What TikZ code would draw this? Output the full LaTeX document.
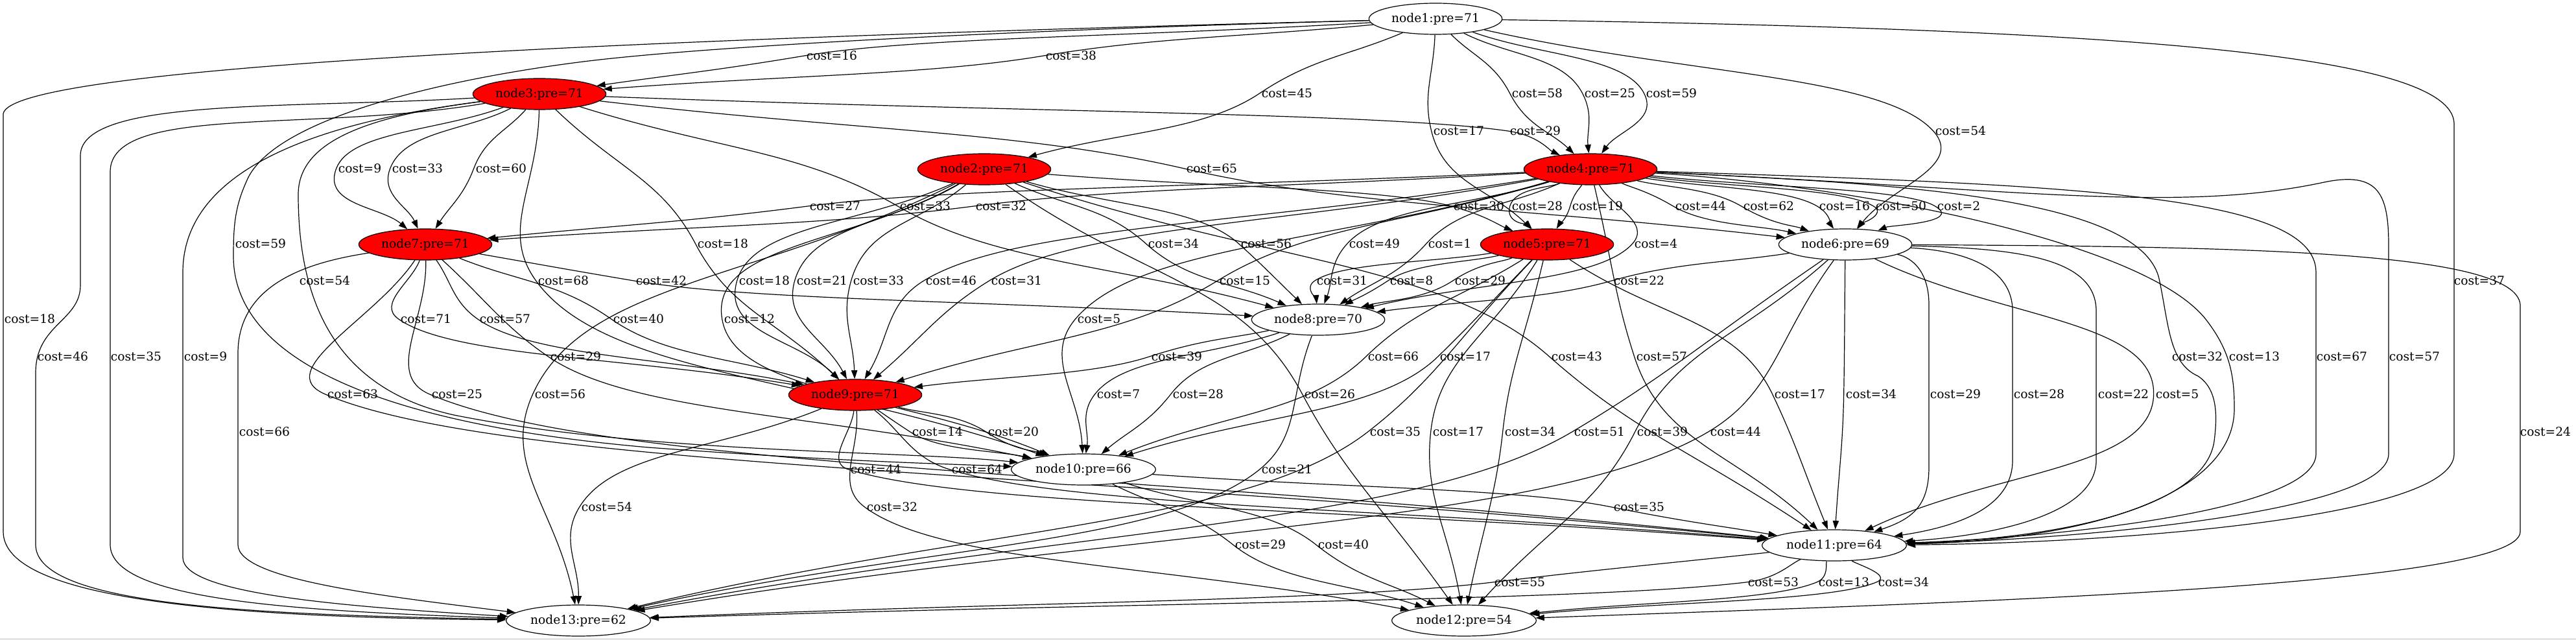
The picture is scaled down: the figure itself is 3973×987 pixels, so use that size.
\documentclass[tikz,border=0pt]{standalone}
\usepackage{fontspec}
\setmainfont{DejaVu Serif}
\usetikzlibrary{shapes.geometric,arrows.meta,calc}
\pgfdeclarelayer{back}
\pgfdeclarelayer{bg}
\pgfsetlayers{back,bg,main}
\newcommand\fsz{\fontsize{14pt}{16pt}\selectfont}
\definecolor{lgray}{RGB}{190,190,190}
\tikzset{
  nd/.style={ellipse, draw=black, line width=0.9pt, fill=white, minimum width=154pt, minimum height=36pt, inner sep=0pt, font=\fsz},
  wd/.style={minimum width=167pt},
  hot/.style={fill=red},
  lbl/.style={inner sep=0pt, font=\fsz},
  cn/.style={draw=black, line width=0.9pt, -{Triangle[length=10pt,width=7pt]}},
}
\newcommand\Ed[6]{%
  \node[lbl] (l#1) at (#4,#5) {cost=#6};
  \path[cn] let \p1=(#2), \p2=(#3), \p3=($(l#1.west)+(-3,0)$),
    \n1={veclen(0.5*((\x2)-(\x1)),(\y2)-(\y1))},
    \n2={min(0.5*((\y3)-(\y1))/((\y2)-(\y1)), veclen((\x3)-(\x1),(\y3)-(\y1))/(3*\n1))},
    \n3={min(0.5*((\y2)-(\y3))/((\y2)-(\y1)), veclen((\x2)-(\x3),(\y2)-(\y3))/(3*\n1))} in
    (#2) .. controls ({(\x1)+0.5*((\x3)-(\x1))},{(\y1)+0.5*((\y3)-(\y1))}) and ({(\x3)-\n2*0.5*((\x2)-(\x1))},{(\y3)-\n2*((\y2)-(\y1))}) .. (\p3)
    .. controls ({(\x3)+\n3*0.5*((\x2)-(\x1))},{(\y3)+\n3*((\y2)-(\y1))}) and ({(\x2)+0.5*((\x3)-(\x2))},{(\y2)+0.5*((\y3)-(\y2))}) .. (#3);
}
\begin{document}
\begin{tikzpicture}[x=0.75pt,y=-0.75pt]
\useasboundingbox (0,0) rectangle (3973,987);
\begin{pgfonlayer}{back}
\fill[white] (0,0) rectangle (3973,987);
\draw[lgray, line width=1pt] (0,985.5) -- (3973,985.5);
\end{pgfonlayer}
% nodes
\node[nd] (n1) at (2214,29) {node1:pre=71};
\node[nd,hot] (n3) at (832,145) {node3:pre=71};
\node[nd,hot] (n2) at (1518,261) {node2:pre=71};
\node[nd,hot] (n4) at (2453,261) {node4:pre=71};
\node[nd,hot] (n7) at (656,377) {node7:pre=71};
\node[nd,hot] (n5) at (2386,377) {node5:pre=71};
\node[nd] (n6) at (2846,377) {node6:pre=69};
\node[nd] (n8) at (2033,493) {node8:pre=70};
\node[nd,hot] (n9) at (1319,609) {node9:pre=71};
\node[nd,wd] (n10) at (1671,724) {node10:pre=66};
\node[nd,wd] (n11) at (2829,841) {node11:pre=64};
\node[nd,wd] (n12) at (2258,957) {node12:pre=54};
\node[nd,wd] (n13) at (892,957) {node13:pre=62};
\begin{pgfonlayer}{bg}
\Ed{1}{n1}{n3}{1283}{86}{16}
\Ed{2}{n1}{n3}{1652}{86}{38}
\Ed{3}{n1}{n2}{1985}{144}{45}
\Ed{4}{n1}{n4}{2371}{144}{58}
\Ed{5}{n1}{n4}{2483}{144}{25}
\Ed{6}{n1}{n4}{2578}{144}{59}
\Ed{7}{n1}{n5}{2250}{202}{17}
\Ed{8}{n3}{n4}{2368}{202}{29}
\Ed{9}{n1}{n6}{3024}{202}{54}
\Ed{10}{n3}{n7}{555}{260}{9}
\Ed{11}{n3}{n7}{644}{260}{33}
\Ed{12}{n3}{n7}{773}{260}{60}
\Ed{13}{n3}{n6}{1869}{260}{65}
\Ed{14}{n4}{n7}{1288}{318}{27}
\Ed{15}{n3}{n8}{1427}{318}{33}
\Ed{16}{n4}{n7}{1544}{318}{32}
\Ed{17}{n2}{n5}{2281}{318}{30}
\Ed{18}{n4}{n5}{2371}{318}{28}
\Ed{19}{n4}{n5}{2464}{318}{19}
\Ed{20}{n4}{n6}{2623}{318}{44}
\Ed{21}{n4}{n6}{2728}{318}{62}
\Ed{22}{n4}{n6}{2845}{318}{16}
\Ed{23}{n4}{n6}{2932}{318}{50}
\Ed{24}{n4}{n6}{3021}{318}{2}
% node1 -> node10 (left route)
\node[lbl] (l25) at (402,376) {cost=59};
\draw[cn] (n1) .. controls (1600,45) and (1100,70) .. (900,95) .. controls (700,120) and (420,180) .. (380,280) .. controls (362,320) and (360,350) .. (360,395) .. controls (360,560) and (600,655) .. (1000,690) .. controls (1300,712) and (1450,715) .. (n10);
\Ed{26}{n3}{n9}{1115}{376}{18}
\Ed{27}{n2}{n8}{1810}{376}{34}
\Ed{28}{n2}{n8}{1953}{376}{56}
\Ed{29}{n4}{n8}{2120}{376}{49}
\Ed{30}{n4}{n8}{2236}{376}{1}
\Ed{31}{n4}{n8}{2554}{376}{4}
% node3 -> node10 (left of node7)
\node[lbl] (l32) at (501,433) {cost=54};
\draw[cn] (n3) .. controls (560,180) and (460,220) .. (460,300) .. controls (460,470) and (520,600) .. (700,640) .. controls (1000,700) and (1400,695) .. (n10);
\Ed{33}{n3}{n10}{869}{433}{68}
\Ed{34}{n7}{n8}{1020}{433}{42}
\Ed{35}{n2}{n9}{1179}{433}{18}
\Ed{36}{n2}{n9}{1268}{433}{21}
\Ed{37}{n2}{n9}{1355}{433}{33}
\Ed{38}{n4}{n9}{1467}{433}{46}
\Ed{39}{n4}{n9}{1568}{433}{31}
\Ed{40}{n4}{n9}{1920}{433}{15}
\Ed{41}{n5}{n8}{2070}{433}{31}
\Ed{42}{n5}{n8}{2177}{433}{8}
\Ed{43}{n5}{n8}{2283}{433}{29}
\Ed{44}{n6}{n8}{2528}{433}{22}
\node[lbl] (l45) at (3824,433) {cost=37};
\draw[cn] (n1) .. controls (3300,45) and (3780,85) .. (3785,190) -- (3785,700) .. controls (3785,800) and (3250,838) .. (n11);
\node[lbl] (l46) at (46,492) {cost=18};
\draw[cn] (n1) .. controls (900,62) and (20,105) .. (5,175) -- (5,820) .. controls (5,925) and (350,952) .. (n13);
\Ed{47}{n7}{n9}{657}{492}{71}
\Ed{48}{n7}{n9}{779}{492}{57}
\Ed{49}{n7}{n9}{985}{492}{40}
\Ed{50}{n2}{n10}{1156}{492}{12}
\Ed{51}{n4}{n10}{1695}{492}{5}
% node3 -> node13 (three left routes)
\node[lbl] (l52) at (97,550) {cost=46};
\draw[cn] (n3) .. controls (450,168) and (124,150) .. (124,240) -- (124,440) .. controls (124,495) and (55,500) .. (55,575) -- (55,840) .. controls (55,935) and (400,948) .. (n13);
\node[lbl] (l53) at (210,550) {cost=35};
\draw[cn] (n3) .. controls (480,205) and (170,160) .. (170,265) -- (170,840) .. controls (170,925) and (450,942) .. (n13);
\node[lbl] (l54) at (317,550) {cost=9};
\draw[cn] (n3) .. controls (520,185) and (282,250) .. (282,420) -- (282,860) .. controls (282,915) and (520,935) .. (n13);
\Ed{55}{n7}{n10}{888}{550}{29}
\Ed{56}{n8}{n9}{1815}{550}{39}
\Ed{57}{n5}{n10}{2149}{550}{66}
\Ed{58}{n5}{n10}{2260}{550}{17}
\Ed{59}{n2}{n11}{2432}{550}{43}
\Ed{60}{n4}{n11}{2563}{550}{57}
\node[lbl] (l61) at (3389,550) {cost=32};
\draw[cn] (n4) .. controls (2900,282) and (3300,300) .. (3330,430) .. controls (3345,500) and (3345,560) .. (3390,580) .. controls (3420,600) and (3420,640) .. (3415,680) .. controls (3400,790) and (3150,832) .. (n11);
\node[lbl] (l62) at (3477,550) {cost=13};
\draw[cn] (n4) .. controls (2850,285) and (3300,370) .. (3400,490) .. controls (3440,540) and (3446,580) .. (3446,630) .. controls (3446,770) and (3200,834) .. (n11);
\node[lbl] (l63) at (3612,550) {cost=67};
\draw[cn] (n4) .. controls (3200,285) and (3572,300) .. (3572,420) -- (3572,700) .. controls (3572,790) and (3150,830) .. (n11);
\node[lbl] (l64) at (3724,550) {cost=57};
\draw[cn] (n4) .. controls (3100,290) and (3350,330) .. (3580,282) .. controls (3670,262) and (3684,300) .. (3684,380) -- (3684,700) .. controls (3684,790) and (3200,832) .. (n11);
\Ed{65}{n7}{n11}{544}{608}{63}
\Ed{66}{n7}{n11}{705}{608}{25}
\Ed{67}{n2}{n13}{864}{608}{56}
\Ed{68}{n8}{n10}{1725}{608}{7}
\Ed{69}{n8}{n10}{1848}{608}{28}
\Ed{70}{n2}{n12}{2051}{608}{26}
\Ed{71}{n5}{n11}{2776}{608}{17}
\Ed{72}{n6}{n11}{2886}{608}{34}
\node[lbl] (l73) at (3016,608) {cost=29};
\draw[cn] (n6) .. controls (2940,395) and (2975,410) .. (2975,470) -- (2975,720) .. controls (2975,780) and (2950,800) .. (n11);
\node[lbl] (l74) at (3145,608) {cost=28};
\draw[cn] (n6) .. controls (3000,385) and (3104,400) .. (3104,480) -- (3104,710) .. controls (3104,790) and (3000,815) .. (n11);
\node[lbl] (l75) at (3275,608) {cost=22};
\draw[cn] (n6) .. controls (3120,383) and (3233,400) .. (3233,480) -- (3233,710) .. controls (3233,800) and (3050,828) .. (n11);
\Ed{76}{n6}{n11}{3358}{608}{5}
\node[lbl] (l77) at (408,666) {cost=66};
\draw[cn] (n7) .. controls (470,405) and (367,440) .. (367,545) -- (367,840) .. controls (367,895) and (600,920) .. (n13);
\Ed{78}{n9}{n10}{1446}{666}{14}
\Ed{79}{n9}{n10}{1563}{666}{20}
\Ed{80}{n5}{n13}{2152}{666}{35}
\Ed{81}{n5}{n12}{2249}{666}{17}
\Ed{82}{n5}{n12}{2360}{666}{34}
\Ed{83}{n6}{n13}{2467}{666}{51}
\Ed{84}{n6}{n12}{2564}{666}{39}
\Ed{85}{n6}{n13}{2677}{666}{44}
\node[lbl] (l86) at (3926,666) {cost=24};
\draw[cn] (n6) .. controls (3500,380) and (3880,390) .. (3887,470) -- (3887,820) .. controls (3887,905) and (3000,930) .. (n12);
\Ed{87}{n9}{n11}{1351}{724}{44}
\Ed{88}{n9}{n11}{1507}{724}{64}
\Ed{89}{n8}{n13}{1985}{724}{21}
\Ed{90}{n9}{n13}{936}{782}{54}
\Ed{91}{n9}{n12}{1376}{782}{32}
\Ed{92}{n10}{n11}{2528}{782}{35}
\Ed{93}{n10}{n12}{1944}{840}{29}
\Ed{94}{n10}{n12}{2072}{840}{40}
\Ed{95}{n11}{n13}{2344}{898}{55}
\Ed{96}{n11}{n13}{2735}{898}{53}
\Ed{97}{n11}{n12}{2844}{898}{13}
\Ed{98}{n11}{n12}{2936}{898}{34}
\end{pgfonlayer}
\end{tikzpicture}
\end{document}
